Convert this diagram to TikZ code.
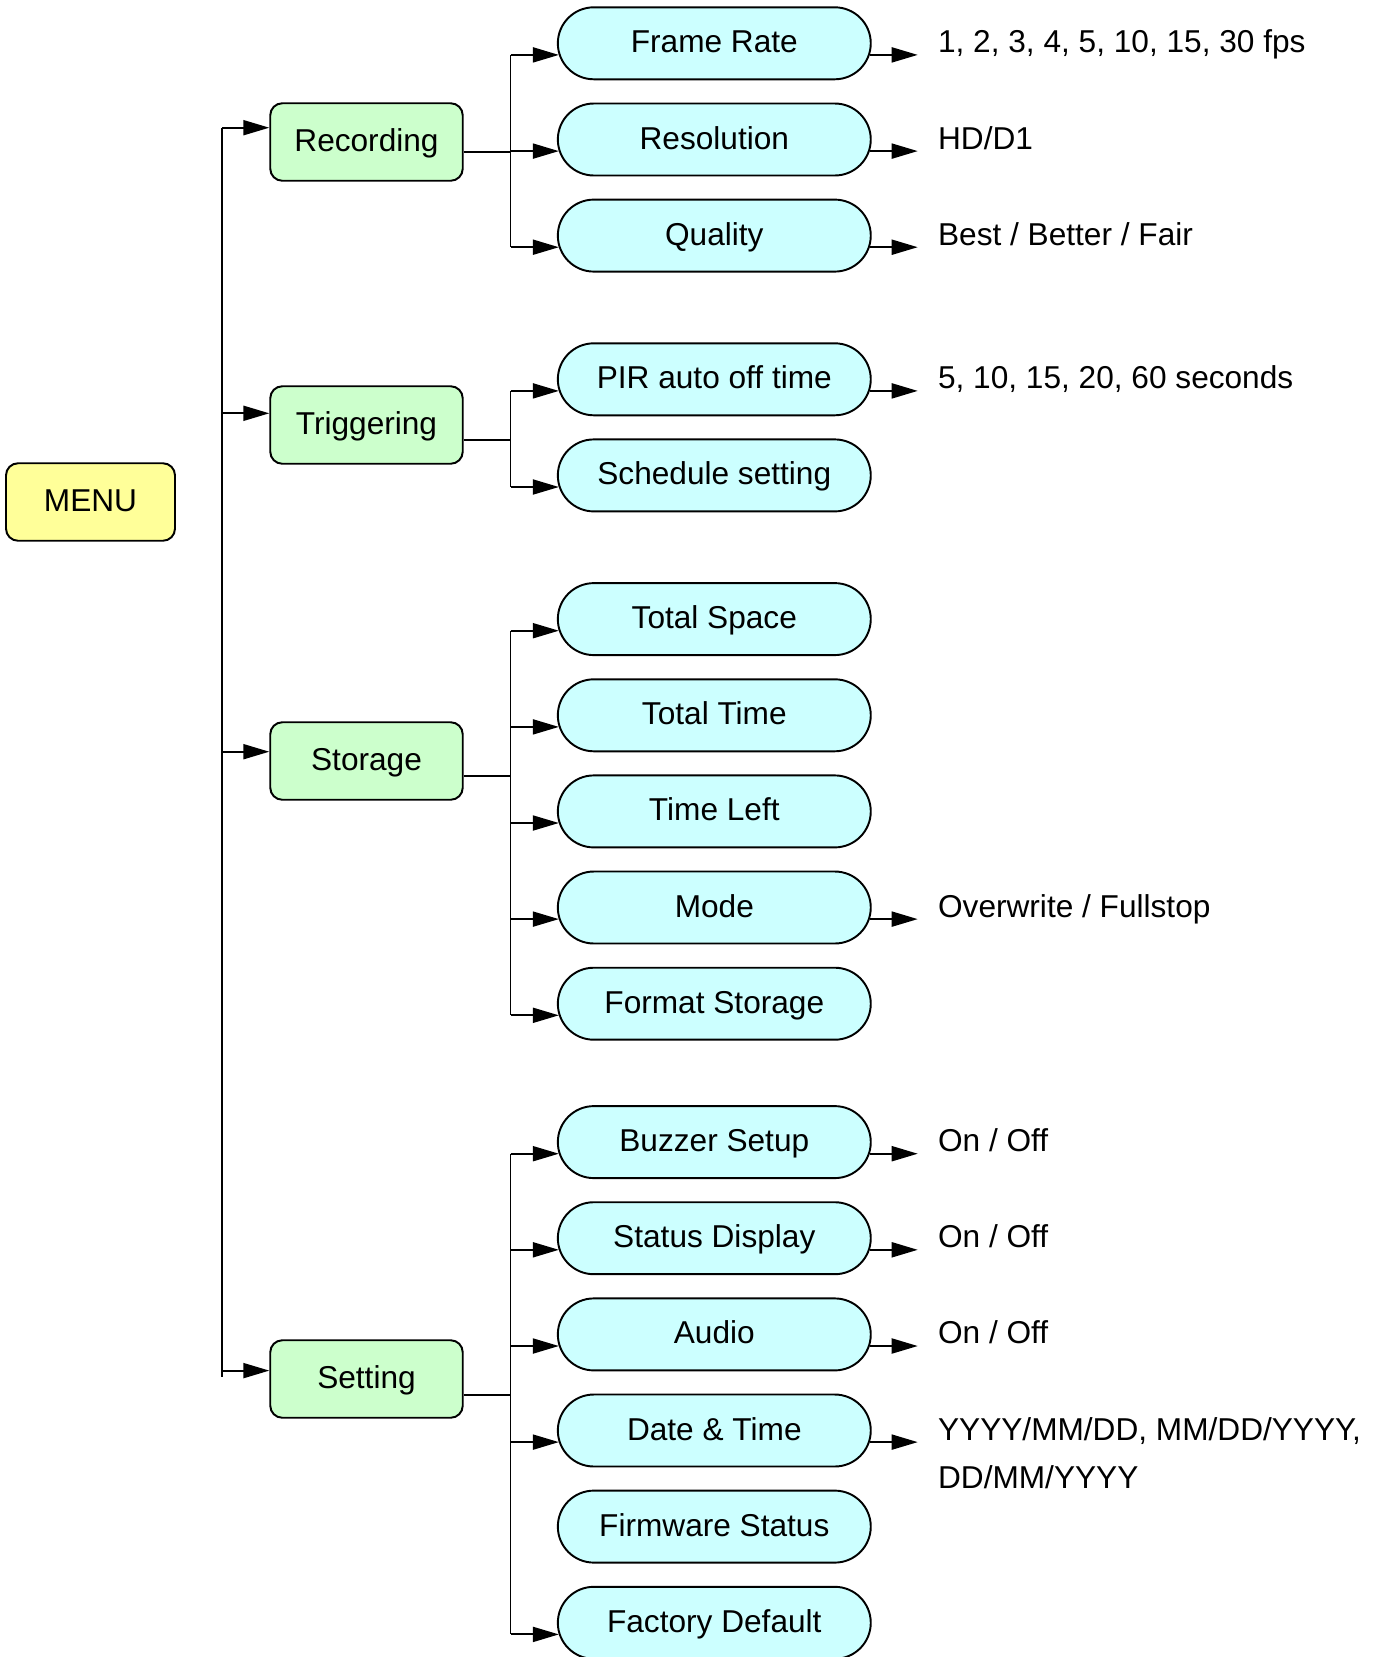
\documentclass[tikz,border=0pt]{standalone}
\usepackage{fontspec}
\setmainfont{Liberation Sans}
\usetikzlibrary{arrows.meta,calc,shapes.misc}
\definecolor{menuyel}{HTML}{FFFF99}
\definecolor{grpgreen}{HTML}{CCFFCC}
\definecolor{itmcyan}{HTML}{CCFFFF}
\tikzset{
	box/.style={draw, line width=1.1pt, inner sep=0pt, align=center,
		text height=12.9pt, text depth=2pt, font=\fontsize{18}{22}\selectfont},
	menu/.style={box, rounded corners=0.24cm, fill=menuyel,
		minimum width=3.38cm, minimum height=1.55cm},
	grp/.style={box, rounded corners=0.24cm, fill=grpgreen,
		minimum width=3.85cm, minimum height=1.55cm},
	itm/.style={box, rounded rectangle, fill=itmcyan,
		minimum width=6.26cm, minimum height=1.44cm},
	val/.style={anchor=base west, inner sep=0pt, align=left,
		font=\fontsize{18}{27.6}\selectfont},
	ln/.style={line width=1.1pt},
	arr/.style={ln, -{Triangle[length=0.52cm, width=0.3cm]}},
}

\begin{document}
\begin{tikzpicture}[x=0.02cm, y=-0.02cm]
	\useasboundingbox (0,0) rectangle (1383,1657);
	% root and groups
	\node[menu] at (90.5,502) (menu) {MENU};
	\node[grp] at (366.5,142) (rec) {Recording};
	\node[grp] at (366.5,425) (trg) {Triggering};
	\node[grp] at (366.5,761) (sto) {Storage};
	\node[grp] at (366.5,1379) (set) {Setting};
	% items
	\node[itm] at (714.3,43.3) (fr) {Frame Rate};
	\node[itm] at (714.3,139.5) (res) {Resolution};
	\node[itm] at (714.3,235.6) (qua) {Quality};
	\node[itm] at (714.3,379.3) (pir) {PIR auto off time};
	\node[itm] at (714.3,475.4) (sch) {Schedule setting};
	\node[itm] at (714.3,619.1) (tsp) {Total Space};
	\node[itm] at (714.3,715.3) (tti) {Total Time};
	\node[itm] at (714.3,811.4) (tle) {Time Left};
	\node[itm] at (714.3,907.5) (mod) {Mode};
	\node[itm] at (714.3,1003.7) (fmt) {Format Storage};
	\node[itm] at (714.3,1142.1) (buz) {Buzzer Setup};
	\node[itm] at (714.3,1238.2) (sta) {Status Display};
	\node[itm] at (714.3,1334.4) (aud) {Audio};
	\node[itm] at (714.3,1430.5) (dat) {Date \& Time};
	\node[itm] at (714.3,1526.6) (fw) {Firmware Status};
	\node[itm] at (714.3,1622.8) (fac) {Factory Default};
	% values
	\node[val] at ($(fr.east)+(66,9.5)$) (frv) {1, 2, 3, 4, 5, 10, 15, 30 fps};
	\node[val] at ($(res.east)+(66,9.5)$) (resv) {HD/D1};
	\node[val] at ($(qua.east)+(66,9.5)$) (quav) {Best / Better / Fair};
	\node[val] at ($(pir.east)+(66,9.5)$) (pirv) {5, 10, 15, 20, 60 seconds};
	\node[val] at ($(mod.east)+(66,9.5)$) (modv) {Overwrite / Fullstop};
	\node[val] at ($(buz.east)+(66,9.5)$) (buzv) {On / Off};
	\node[val] at ($(sta.east)+(66,9.5)$) (stav) {On / Off};
	\node[val] at ($(aud.east)+(66,9.5)$) (audv) {On / Off};
	% base of a two-line node is its last line
	\node[val] at ($(dat.east)+(66,58.1)$) (datv) {YYYY/MM/DD, MM/DD/YYYY,\\DD/MM/YYYY};
	% trunk
	\coordinate (trkT) at (222,127.7);
	\coordinate (trkB) at (222,1377);
	\draw[ln] (trkT) -- (trkB);
	\draw[arr] (trkT) -- (trkT -| rec.west);
	\draw[arr] ($(trg.west -| trkT)+(0,-11.7)$) -- ($(trg.west)+(0,-11.7)$);
	\draw[arr] ($(sto.west -| trkT)+(0,-9.3)$) -- ($(sto.west)+(0,-9.3)$);
	\draw[arr] ($(set.west -| trkT)+(0,-8.4)$) -- ($(set.west)+(0,-8.4)$);
	% branch points
	\coordinate (brR) at (510.5,151.7);
	\coordinate (brT) at (510.5,440);
	\coordinate (brS) at (510.5,776);
	\coordinate (brE) at (510.5,1394.6);
	\draw[ln] ($(rec.east)+(0,9.7)$) -- (brR);
	\draw[ln] ($(trg.east)+(0,15)$) -- (brT);
	\draw[ln] ($(sto.east)+(0,15)$) -- (brS);
	\draw[ln] ($(set.east)+(0,15.6)$) -- (brE);
	\draw[ln] ($(fr.west -| brR)+(0,11.6)$) -- ($(qua.west -| brR)+(0,11.6)$);
	\draw[ln] ($(pir.west -| brT)+(0,11.6)$) -- ($(sch.west -| brT)+(0,11.6)$);
	\draw[ln] ($(tsp.west -| brS)+(0,11.6)$) -- ($(fmt.west -| brS)+(0,11.6)$);
	\draw[ln] ($(buz.west -| brE)+(0,11.6)$) -- ($(fac.west -| brE)+(0,11.6)$);
	% arrows into items
	\draw[arr] ($(fr.west -| brR)+(0,11.6)$) -- ($(fr.west)+(2,11.6)$);
	\draw[arr] ($(res.west -| brR)+(0,11.6)$) -- ($(res.west)+(2,11.6)$);
	\draw[arr] ($(qua.west -| brR)+(0,11.6)$) -- ($(qua.west)+(2,11.6)$);
	\draw[arr] ($(pir.west -| brT)+(0,11.6)$) -- ($(pir.west)+(2,11.6)$);
	\draw[arr] ($(sch.west -| brT)+(0,11.6)$) -- ($(sch.west)+(2,11.6)$);
	\draw[arr] ($(tsp.west -| brS)+(0,11.6)$) -- ($(tsp.west)+(2,11.6)$);
	\draw[arr] ($(tti.west -| brS)+(0,11.6)$) -- ($(tti.west)+(2,11.6)$);
	\draw[arr] ($(tle.west -| brS)+(0,11.6)$) -- ($(tle.west)+(2,11.6)$);
	\draw[arr] ($(mod.west -| brS)+(0,11.6)$) -- ($(mod.west)+(2,11.6)$);
	\draw[arr] ($(fmt.west -| brS)+(0,11.6)$) -- ($(fmt.west)+(2,11.6)$);
	\draw[arr] ($(buz.west -| brE)+(0,11.6)$) -- ($(buz.west)+(2,11.6)$);
	\draw[arr] ($(sta.west -| brE)+(0,11.6)$) -- ($(sta.west)+(2,11.6)$);
	\draw[arr] ($(aud.west -| brE)+(0,11.6)$) -- ($(aud.west)+(2,11.6)$);
	\draw[arr] ($(dat.west -| brE)+(0,11.6)$) -- ($(dat.west)+(2,11.6)$);
	\draw[arr] ($(fac.west -| brE)+(0,11.6)$) -- ($(fac.west)+(2,11.6)$);
	% arrows to values
	\draw[arr] ($(fr.east)+(-2,11.6)$) -- ($(fr.east)+(46,11.6)$);
	\draw[arr] ($(res.east)+(-2,11.6)$) -- ($(res.east)+(46,11.6)$);
	\draw[arr] ($(qua.east)+(-2,11.6)$) -- ($(qua.east)+(46,11.6)$);
	\draw[arr] ($(pir.east)+(-2,11.6)$) -- ($(pir.east)+(46,11.6)$);
	\draw[arr] ($(mod.east)+(-2,11.6)$) -- ($(mod.east)+(46,11.6)$);
	\draw[arr] ($(buz.east)+(-2,11.6)$) -- ($(buz.east)+(46,11.6)$);
	\draw[arr] ($(sta.east)+(-2,11.6)$) -- ($(sta.east)+(46,11.6)$);
	\draw[arr] ($(aud.east)+(-2,11.6)$) -- ($(aud.east)+(46,11.6)$);
	\draw[arr] ($(dat.east)+(-2,11.6)$) -- ($(dat.east)+(46,11.6)$);
\end{tikzpicture}
\end{document}
